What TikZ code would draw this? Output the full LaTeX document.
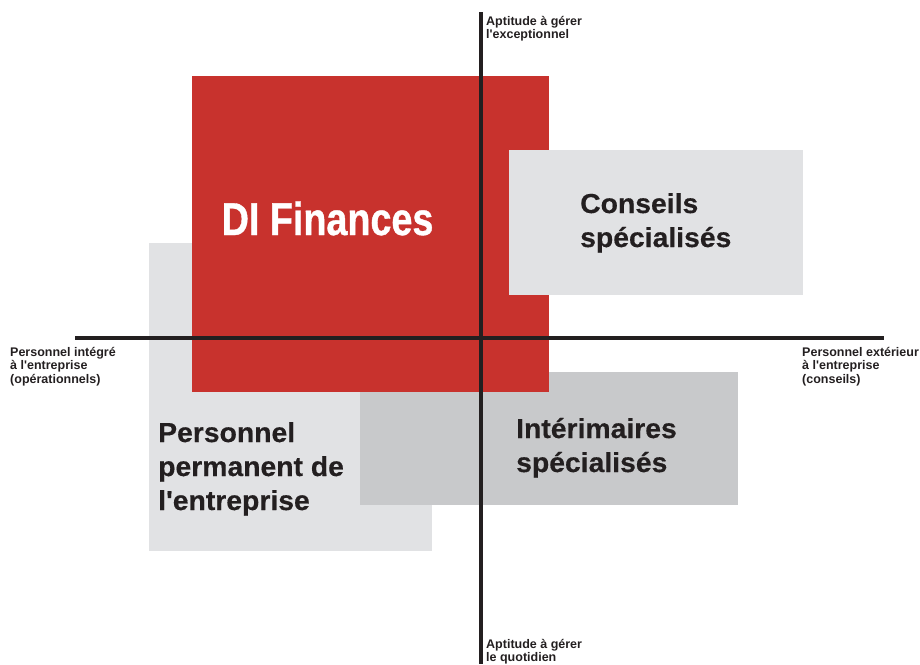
\documentclass[tikz,border=0pt]{standalone}
\usepackage{fontspec}
\setmainfont[Ligatures=TeXOff]{Liberation Sans}
\newfontfamily\bigfont[FakeStretch=0.82,FakeBold=0.8,Ligatures=TeXOff]{Liberation Sans}
\newfontfamily\medfont[FakeStretch=1.03,FakeBold=0.4,Ligatures=TeXOff]{Liberation Sans}
\definecolor{dired}{HTML}{C8322D}
\definecolor{lightgr}{HTML}{E1E2E4}
\definecolor{midgr}{HTML}{C8C9CB}
\definecolor{inkc}{HTML}{231F20}
\begin{document}
\begin{tikzpicture}[x=1pt,y=-1pt,
  axis/.style={draw=inkc,line width=3.2pt},
  bigtxt/.style={anchor=base west,inner sep=0pt,align=left,text=inkc,font=\medfont\bfseries\fontsize{27.5}{34}\selectfont},
  smalltxt/.style={anchor=base west,inner sep=0pt,align=left,text=inkc,font=\bfseries\fontsize{12.5}{13.3}\selectfont}]
\useasboundingbox (0,0) rectangle (920,664);
% boxes
\fill[lightgr] (149,243) rectangle (432,551);
\fill[midgr] (360,372) rectangle (738,505);
\fill[dired] (192,76) rectangle (549,392);
\fill[lightgr] (509,150) rectangle (803,295);
% axes
\coordinate (vtop) at (481,12);
\coordinate (vbot) at (481,664);
\coordinate (hleft) at (75,338);
\coordinate (hright) at (884,338);
\draw[axis] (vtop) -- (vbot);
\draw[axis] (hleft) -- (hright);
% texts (base anchor = baseline of the last line)
\node[anchor=base west,inner sep=0pt,text=white,font=\bigfont\bfseries\fontsize{46}{50}\selectfont] (difin) at (221.5,235) {DI Finances};
\node[bigtxt] (cons) at (580,247) {Conseils\\spécialisés};
\node[bigtxt] (perm) at (158,510) {Personnel\\permanent de\\l'entreprise};
\node[bigtxt] (inter) at (516,472) {Intérimaires\\spécialisés};
\node[smalltxt] (ltop) at (486,38.3) {Aptitude à gérer\\l'exceptionnel};
\node[smalltxt] (lbot) at (486,661.7) {Aptitude à gérer\\le quotidien};
\node[smalltxt] (lleft) at (10,383) {Personnel intégré\\à l'entreprise\\(opérationnels)};
\node[smalltxt] (lright) at (802,383) {Personnel extérieur\\à l'entreprise\\(conseils)};
\end{tikzpicture}
\end{document}
